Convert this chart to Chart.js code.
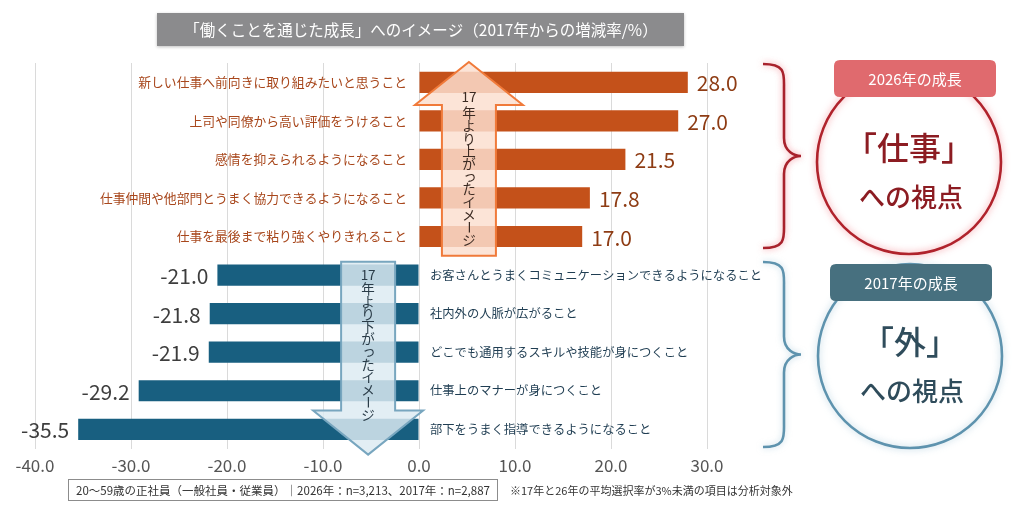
<!DOCTYPE html>
<html>
<head>
<meta charset="utf-8">
<script src="https://cdn.jsdelivr.net/npm/chart.js@4.4.1/dist/chart.umd.min.js"></script>
<style>
  html, body { margin: 0; padding: 0; background: #ffffff; }
  #wrap { width: 1030px; height: 520px; position: relative; }
</style>
</head>
<body>
<div id="wrap"><canvas id="c" width="1030" height="520"></canvas></div>
<script>
// ---- data ----
const categories = [
  '新しい仕事へ前向きに取り組みたいと思うこと',
  '上司や同僚から高い評価をうけること',
  '感情を抑えられるようになること',
  '仕事仲間や他部門とうまく協力できるようになること',
  '仕事を最後まで粘り強くやりきれること',
  'お客さんとうまくコミュニケーションできるようになること',
  '社内外の人脈が広がること',
  'どこでも通用するスキルや技能が身につくこと',
  '仕事上のマナーが身につくこと',
  '部下をうまく指導できるようになること'
];
const changes = [28.0, 27.0, 21.5, 17.8, 17.0, -21.0, -21.8, -21.9, -29.2, -35.5];
const xTickLabels = ['-40.0', '-30.0', '-20.0', '-10.0', '0.0', '10.0', '20.0', '30.0'];
const titleText = '「働くことを通じた成長」へのイメージ（2017年からの増減率/%）';
const sampleNote = '20～59歳の正社員（一般社員・従業員）｜2026年：n=3,213、2017年：n=2,887';
const excludeNote = '※17年と26年の平均選択率が3%未満の項目は分析対象外';
const upArrowText = ['17', '年より上がったイメージ'];
const downArrowText = ['17', '年より下がったイメージ'];
const redBadge = '2026年の成長';
const redMain = '「仕事」';
const blueBadge = '2017年の成長';
const blueMain = '「外」';
const viewText = 'への視点';

const FONT = "'Noto Sans CJK JP', 'Noto Sans', sans-serif";
const ORANGE = '#c4511a';
const BLUE = '#185f80';

function roundRect(ctx, x, y, w, h, r) {
  ctx.beginPath();
  ctx.moveTo(x + r, y);
  ctx.lineTo(x + w - r, y);
  ctx.quadraticCurveTo(x + w, y, x + w, y + r);
  ctx.lineTo(x + w, y + h - r);
  ctx.quadraticCurveTo(x + w, y + h, x + w - r, y + h);
  ctx.lineTo(x + r, y + h);
  ctx.quadraticCurveTo(x, y + h, x, y + h - r);
  ctx.lineTo(x, y + r);
  ctx.quadraticCurveTo(x, y, x + r, y);
  ctx.closePath();
}

function verticalText(ctx, parts, cx, yNum, yFirst, step, size, color) {
  ctx.save();
  ctx.fillStyle = color;
  ctx.textAlign = 'center';
  ctx.textBaseline = 'middle';
  ctx.font = size + 'px ' + FONT;
  ctx.fillText(parts[0], cx, yNum);
  const chars = Array.from(parts[1]);
  chars.forEach((ch, i) => {
    const y = yFirst + i * step;
    if (ch === 'ー') {
      ctx.save();
      ctx.translate(cx, y);
      ctx.rotate(Math.PI / 2);
      ctx.fillText(ch, 0, 0);
      ctx.restore();
    } else if (ch === 'っ') {
      ctx.fillText(ch, cx + 1, y - 1);
    } else {
      ctx.fillText(ch, cx, y);
    }
  });
  ctx.restore();
}

function arrowPath(ctx, cx, tipY, headBaseY, tailY, headHalf, shaftHalf) {
  ctx.beginPath();
  ctx.moveTo(cx, tipY);
  ctx.lineTo(cx + headHalf, headBaseY);
  ctx.lineTo(cx + shaftHalf, headBaseY);
  ctx.lineTo(cx + shaftHalf, tailY);
  ctx.lineTo(cx - shaftHalf, tailY);
  ctx.lineTo(cx - shaftHalf, headBaseY);
  ctx.lineTo(cx - headHalf, headBaseY);
  ctx.closePath();
}

function brace(ctx, x0, top, bottom, xMid, xTip, color, glow) {
  const mid = (top + bottom) / 2;
  ctx.save();
  ctx.strokeStyle = color;
  ctx.lineWidth = 2.6;
  ctx.shadowColor = glow;
  ctx.shadowBlur = 6;
  ctx.beginPath();
  ctx.moveTo(x0, top);
  ctx.bezierCurveTo(xMid + 2, top, xMid, top + 10, xMid, top + 24);
  ctx.lineTo(xMid, mid - 18);
  ctx.bezierCurveTo(xMid, mid - 4, xTip - 6, mid, xTip, mid);
  ctx.bezierCurveTo(xTip - 6, mid, xMid, mid + 4, xMid, mid + 18);
  ctx.lineTo(xMid, bottom - 24);
  ctx.bezierCurveTo(xMid, bottom - 10, xMid + 2, bottom, x0, bottom);
  ctx.stroke();
  ctx.restore();
}

function circleBadge(ctx, cx, cy, r, stroke, glow, badgeX, badgeY, badgeW, badgeH, badgeFill, badgeText, mainText, subText, textColor) {
  ctx.save();
  ctx.strokeStyle = stroke;
  ctx.lineWidth = 2.6;
  ctx.shadowColor = glow;
  ctx.shadowBlur = 7;
  ctx.beginPath();
  ctx.arc(cx, cy, r, 0, Math.PI * 2);
  ctx.stroke();
  ctx.restore();

  ctx.save();
  ctx.fillStyle = badgeFill;
  roundRect(ctx, badgeX, badgeY, badgeW, badgeH, 6);
  ctx.fill();
  ctx.fillStyle = '#ffffff';
  ctx.textAlign = 'center';
  ctx.textBaseline = 'middle';
  ctx.font = '15px ' + FONT;
  ctx.fillText(badgeText, badgeX + badgeW / 2, badgeY + badgeH / 2 + 1);
  ctx.fillStyle = textColor;
  ctx.font = '500 32px ' + FONT;
  ctx.fillText(mainText, cx, cy - 14);
  ctx.font = '500 26px ' + FONT;
  ctx.fillText(subText, cx + 2, cy + 35);
  ctx.restore();
}

const decorPlugin = {
  id: 'decor',
  afterDatasetsDraw(chart) {
    const ctx = chart.ctx;
    const xs = chart.scales.x;
    const ys = chart.scales.y;
    const ca = chart.chartArea;

    // up arrow (orange)
    const upX = xs.getPixelForValue(5.2);
    const upTip = ca.top - 1;
    const upTail = ys.getPixelForValue(4.5);
    ctx.save();
    arrowPath(ctx, upX, upTip, upTip + 43, upTail, 54, 27);
    ctx.fillStyle = 'rgba(251,223,207,0.84)';
    ctx.fill();
    ctx.strokeStyle = '#f07a3a';
    ctx.lineWidth = 2;
    ctx.stroke();
    ctx.restore();
    verticalText(ctx, upArrowText, upX, upTip + 35, upTip + 51, 12.7, 13.5, '#3b2a22');

    // down arrow (blue)
    const dnX = xs.getPixelForValue(-5.3);
    const dnTail = ys.getPixelForValue(4.5) + 6;
    const dnTip = ca.bottom + 6;
    ctx.save();
    arrowPath(ctx, dnX, dnTip, dnTip - 44, dnTail, 55, 27);
    ctx.fillStyle = 'rgba(221,235,242,0.84)';
    ctx.fill();
    ctx.strokeStyle = '#78a6bf';
    ctx.lineWidth = 2;
    ctx.stroke();
    ctx.restore();
    verticalText(ctx, downArrowText, dnX, dnTail + 13, dnTail + 27, 12.6, 13.5, '#2a3c48');

    // labels
    const meta = chart.getDatasetMeta(0);
    const zeroX = xs.getPixelForValue(0);
    ctx.save();
    ctx.textBaseline = 'middle';
    meta.data.forEach((bar, i) => {
      const v = changes[i];
      const y = bar.y;
      if (v >= 0) {
        ctx.font = '12.8px ' + FONT;
        ctx.fillStyle = '#a8471c';
        ctx.textAlign = 'right';
        ctx.fillText(categories[i], zeroX - 12, y);
        ctx.font = '21px ' + FONT;
        ctx.fillStyle = '#8e3c14';
        ctx.textAlign = 'left';
        ctx.fillText(v.toFixed(1), bar.x + 9, y + 1);
      } else {
        ctx.font = '12.3px ' + FONT;
        ctx.fillStyle = '#1f3d52';
        ctx.textAlign = 'left';
        ctx.fillText(categories[i], zeroX + 11, y);
        ctx.font = '21px ' + FONT;
        ctx.fillStyle = '#3d3d3d';
        ctx.textAlign = 'right';
        ctx.fillText(v.toFixed(1), bar.x - 9, y + 1);
      }
    });
    ctx.restore();
  },
  afterDraw(chart) {
    const ctx = chart.ctx;
    // title box
    ctx.save();
    ctx.shadowColor = 'rgba(0,0,0,0.25)';
    ctx.shadowBlur = 3;
    ctx.shadowOffsetY = 1;
    ctx.fillStyle = '#8b8b8d';
    ctx.fillRect(157, 13, 527, 33);
    ctx.restore();
    ctx.save();
    ctx.fillStyle = '#ffffff';
    ctx.textAlign = 'center';
    ctx.textBaseline = 'middle';
    ctx.font = '15.5px ' + FONT;
    ctx.fillText(titleText, 421, 30);
    ctx.restore();

    // footnote box
    ctx.save();
    ctx.fillStyle = '#ffffff';
    ctx.strokeStyle = '#8c8c8c';
    ctx.lineWidth = 1;
    ctx.fillRect(68.5, 479.5, 429, 21);
    ctx.strokeRect(68.5, 479.5, 429, 21);
    ctx.fillStyle = '#333333';
    ctx.textAlign = 'center';
    ctx.textBaseline = 'middle';
    ctx.font = '11.5px ' + FONT;
    ctx.fillText(sampleNote, 283, 490.5);
    ctx.textAlign = 'left';
    ctx.font = '11px ' + FONT;
    ctx.fillText(excludeNote, 510, 490.5);
    ctx.restore();

    // braces
    brace(ctx, 763, 64, 248, 784, 801, '#a8222c', 'rgba(240,110,120,0.7)');
    brace(ctx, 763, 262, 447, 784, 801, '#5e93ae', 'rgba(150,190,210,0.6)');

    // circles
    circleBadge(ctx, 909, 162, 92, '#b0232c', 'rgba(240,110,120,0.75)',
      834, 60, 162, 37, '#e06a6e', redBadge, redMain, viewText, '#8c1c22');
    circleBadge(ctx, 910, 356, 92, '#5e93ae', 'rgba(150,190,210,0.7)',
      830, 264, 162, 37, '#47707f', blueBadge, blueMain, viewText, '#2f4c5b');
  }
};

new Chart(document.getElementById('c'), {
  type: 'bar',
  data: {
    labels: categories,
    datasets: [{
      data: changes,
      backgroundColor: changes.map(v => v >= 0 ? ORANGE : BLUE),
      borderWidth: 0,
      barPercentage: 0.55,
      categoryPercentage: 1.0
    }]
  },
  options: {
    indexAxis: 'y',
    responsive: false,
    animation: false,
    layout: { padding: { top: 63, left: 35, right: 323, bottom: 37 } },
    plugins: { legend: { display: false }, tooltip: { enabled: false } },
    scales: {
      x: {
        min: -40,
        max: 30,
        ticks: {
          stepSize: 10,
          padding: 7,
          color: '#555555',
          font: { family: FONT, size: 17 },
          callback: (v, i) => xTickLabels[i]
        },
        grid: { color: '#dadada', lineWidth: 1, drawTicks: false },
        border: { display: false }
      },
      y: { display: false }
    }
  },
  plugins: [decorPlugin]
});
</script>
</body>
</html>
